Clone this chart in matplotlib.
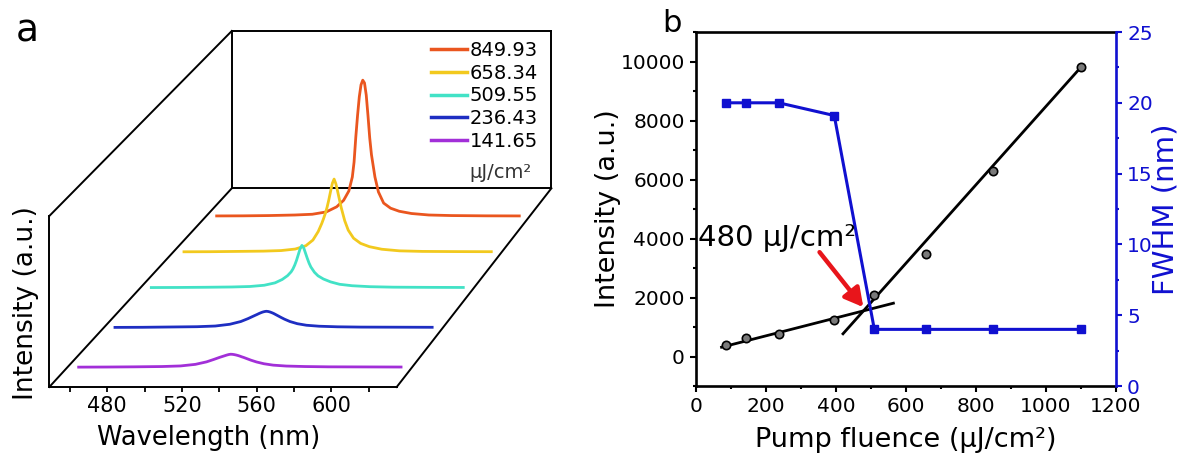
import numpy as np
import matplotlib.pyplot as plt
from matplotlib.ticker import MultipleLocator

# ---- panel a: emission spectra at increasing pump fluence (uJ/cm2) ----
wavelength = [455, 470, 485, 500, 510, 518, 524, 528, 531, 533, 534, 535, 536,
              537, 538, 539, 540, 541, 542, 543, 544, 546, 548, 551, 555, 560,
              567, 577, 590, 610, 629]
pl_141 = [0, 0.1, 0.3, 0.6, 1.2, 2.8, 5.3, 7.8, 9.8, 11, 11.6, 12.2, 12.7,
          13, 12.9, 12.6, 12.2, 11.7, 11.1, 10.4, 9.8, 8.4, 7, 5.2, 3.4, 2,
          1.1, 0.6, 0.3, 0.2, 0.1]
pl_236 = [0, 0.1, 0.4, 0.7, 1.4, 3.2, 6, 9, 11.6, 13.3, 14.2, 15, 15.7,
          16.2, 16.5, 16.3, 15.8, 15.1, 14.3, 13.3, 12.3, 10.3, 8.4, 6, 3.8, 2.2,
          1.2, 0.6, 0.3, 0.2, 0.1]
pl_510 = [0.1, 0.2, 0.4, 0.7, 1.2, 2.5, 5, 8.5, 12.5, 16.5, 19.5, 23.5, 28.5,
          34.5, 40.5, 44, 41.5, 36, 30.5, 25.5, 21.5, 16, 12.3, 9, 6, 3.5,
          2, 1, 0.5, 0.3, 0.2]
pl_658 = [0.1, 0.2, 0.5, 0.8, 1.4, 3, 6.5, 12.5, 21.5, 30, 35, 40.5, 47,
          55, 64, 72.5, 77, 72, 64, 55.5, 47, 33, 23, 14.5, 9, 5.5,
          2.8, 1.1, 0.5, 0.3, 0.2]
pl_850 = [0.2, 0.3, 0.6, 1.2, 2, 4.5, 10, 17, 27, 42, 58, 85, 108,
          128, 141, 146, 143, 130, 108, 84, 66, 42, 26, 14, 8.5, 5.2,
          2.8, 1.2, 0.6, 0.3, 0.2]
spectra = [pl_141, pl_236, pl_510, pl_658, pl_850]
spec_labels = ['141.65', '236.43', '509.55', '658.34', '849.93']
spec_colors = ['#A22FD8', '#1E2EC2', '#42E2C6', '#F2C91E', '#EA561F']
depth = [0.10, 0.30, 0.50, 0.68, 0.86]

# ---- panel b: threshold plot ----
fluence = [85, 141.65, 236.43, 395, 509.55, 658.34, 849.93, 1100]
peak_int = [373, 633, 768, 1254, 2068, 3458, 6282, 9830]
fwhm = [20.0, 20.0, 20.0, 19.1, 4.0, 4.0, 4.0, 4.0]
fit_low_x = [73, 564]
fit_low_y = [315, 1807]
fit_high_x = [420, 1097]
fit_high_y = [770, 9770]

# fake 3d box for panel a
WL0, WL1 = 449, 635
BOX_H = 171
DX, DY, SHRINK = 97.7, 198.7, 0.08


def project(wl, val, t):
    t = np.asarray(t, float)
    s = 1 - SHRINK * t
    x = WL0 + DX * t + s * (np.asarray(wl, float) - WL0)
    y = DY * t + s * np.asarray(val, float)
    return x, y


def main():
    W, H = 1191, 457
    fig = plt.figure(figsize=(W / 100, H / 100), dpi=100)

    # ---------------- a ----------------
    ax = fig.add_axes([49.3 / W, 70 / H, 347.4 / W, BOX_H / H])
    ax.set_xlim(WL0, WL1)
    ax.set_ylim(0, BOX_H)
    ax.spines['top'].set_visible(False)
    ax.spines['right'].set_visible(False)
    ax.spines['left'].set_linewidth(1.4)
    ax.spines['bottom'].set_linewidth(1.4)
    ax.set_xticks([480, 520, 560, 600])
    ax.xaxis.set_minor_locator(MultipleLocator(20))
    ax.set_yticks([])
    ax.tick_params(axis='x', which='both', direction='out', width=1.3,
                   length=3.3, labelsize=15, pad=3)

    edges = [((WL0, 0, 0), (WL0, 0, 1)), ((WL1, 0, 0), (WL1, 0, 1)),
             ((WL0, BOX_H, 0), (WL0, BOX_H, 1)),
             ((WL0, 0, 1), (WL1, 0, 1)), ((WL1, 0, 1), (WL1, BOX_H, 1)),
             ((WL1, BOX_H, 1), (WL0, BOX_H, 1)), ((WL0, BOX_H, 1), (WL0, 0, 1))]
    for p0, p1 in edges:
        xs, ys = project([p0[0], p1[0]], [p0[1], p1[1]], [p0[2], p1[2]])
        ax.plot(xs, ys, color='black', lw=1.4, clip_on=False, zorder=1)

    lines = []
    for k in range(len(spectra)):
        xs, ys = project(wavelength, spectra[k], depth[k])
        ln, = ax.plot(xs, ys, color=spec_colors[k], lw=2.0, clip_on=False,
                      zorder=10 - k, solid_joinstyle='round')
        lines.append(ln)

    leg = ax.legend(lines[::-1], spec_labels[::-1], loc='upper left',
                    bbox_to_anchor=(431 / W, 1 - 41 / H),
                    bbox_transform=fig.transFigure, frameon=False, fontsize=14,
                    handlelength=1.85, handletextpad=0.15, labelspacing=0.19,
                    borderpad=0, borderaxespad=0)
    for l in leg.get_lines():
        l.set_linewidth(2.5)
    fig.text(532 / W, 1 - 172 / H, 'μJ/cm²', ha='right', va='center',
             fontsize=14, color='#333333')

    ax.set_xlabel('Wavelength (nm)', fontsize=18.5)
    ax.xaxis.set_label_coords(0.459, -0.222)
    ax.set_ylabel('Intensity (a.u.)', fontsize=19, va='center')
    ax.yaxis.set_label_coords(-0.067, 0.491)
    fig.text(27 / W, 1 - 41 / H, 'a', fontsize=27, ha='center', va='baseline')

    # ---------------- b ----------------
    blue = '#1010D0'
    ax1 = fig.add_axes([696 / W, 71 / H, 420 / W, 354 / H])
    ax2 = ax1.twinx()

    ax1.plot(fit_low_x, fit_low_y, color='black', lw=2)
    ax1.plot(fit_high_x, fit_high_y, color='black', lw=2)
    ax1.plot(fluence, peak_int, 'o', ms=6, mfc='#7a7a7a', mec='black', mew=1.2)
    ax2.plot(fluence, fwhm, '-s', color=blue, lw=2.2, ms=5.5)

    ax1.set_xlim(0, 1200)
    ax1.set_ylim(-1000, 11000)
    ax2.set_ylim(0, 25)
    ax1.set_xticks(range(0, 1201, 200))
    ax1.xaxis.set_minor_locator(MultipleLocator(100))
    ax1.set_yticks(range(0, 10001, 2000))
    ax1.yaxis.set_minor_locator(MultipleLocator(1000))
    ax2.set_yticks(range(0, 26, 5))
    ax2.yaxis.set_minor_locator(MultipleLocator(2.5))

    ax1.tick_params(which='both', direction='out', width=1.5, labelsize=14.5)
    ax1.tick_params(which='major', length=4)
    ax1.tick_params(which='minor', length=2.5)
    ax1.tick_params(axis='x', pad=4)
    ax1.tick_params(axis='y', pad=4)
    ax2.tick_params(which='both', direction='out', width=1.5, labelsize=14.5,
                    color=blue, labelcolor=blue, pad=4)
    ax2.tick_params(which='major', length=4)
    ax2.tick_params(which='minor', length=2.5)

    for side in ['left', 'top', 'bottom']:
        ax1.spines[side].set_linewidth(1.9)
        ax2.spines[side].set_visible(False)
    ax1.spines['right'].set_visible(False)
    ax2.spines['right'].set_linewidth(1.9)
    ax2.spines['right'].set_color(blue)

    ax2.annotate('', xy=(478, 1672), xytext=(353, 3537),
                 xycoords=ax1.transData, textcoords=ax1.transData,
                 arrowprops=dict(arrowstyle='-|>,head_length=0.55,head_width=0.3',
                                 color='#E8151B', lw=3.2, mutation_scale=20,
                                 shrinkA=0, shrinkB=0))
    ax2.text(5, 4000, '480 μJ/cm²', transform=ax1.transData, fontsize=21,
             ha='left', va='center')

    ax1.set_xlabel('Pump fluence (μJ/cm²)', fontsize=19.5)
    ax1.xaxis.set_label_coords(0.5, -0.117)
    ax1.set_ylabel('Intensity (a.u.)', fontsize=19.5, va='center')
    ax1.yaxis.set_label_coords(-0.2095, 0.5)
    ax2.set_ylabel('FWHM (nm)', fontsize=21, color=blue, va='center')
    ax2.yaxis.set_label_coords(1.117, 0.5)
    fig.text(672 / W, 1 - 32 / H, 'b', fontsize=22, ha='center', va='baseline')

    fig.savefig('out.png', dpi=100)


if __name__ == '__main__':
    main()
